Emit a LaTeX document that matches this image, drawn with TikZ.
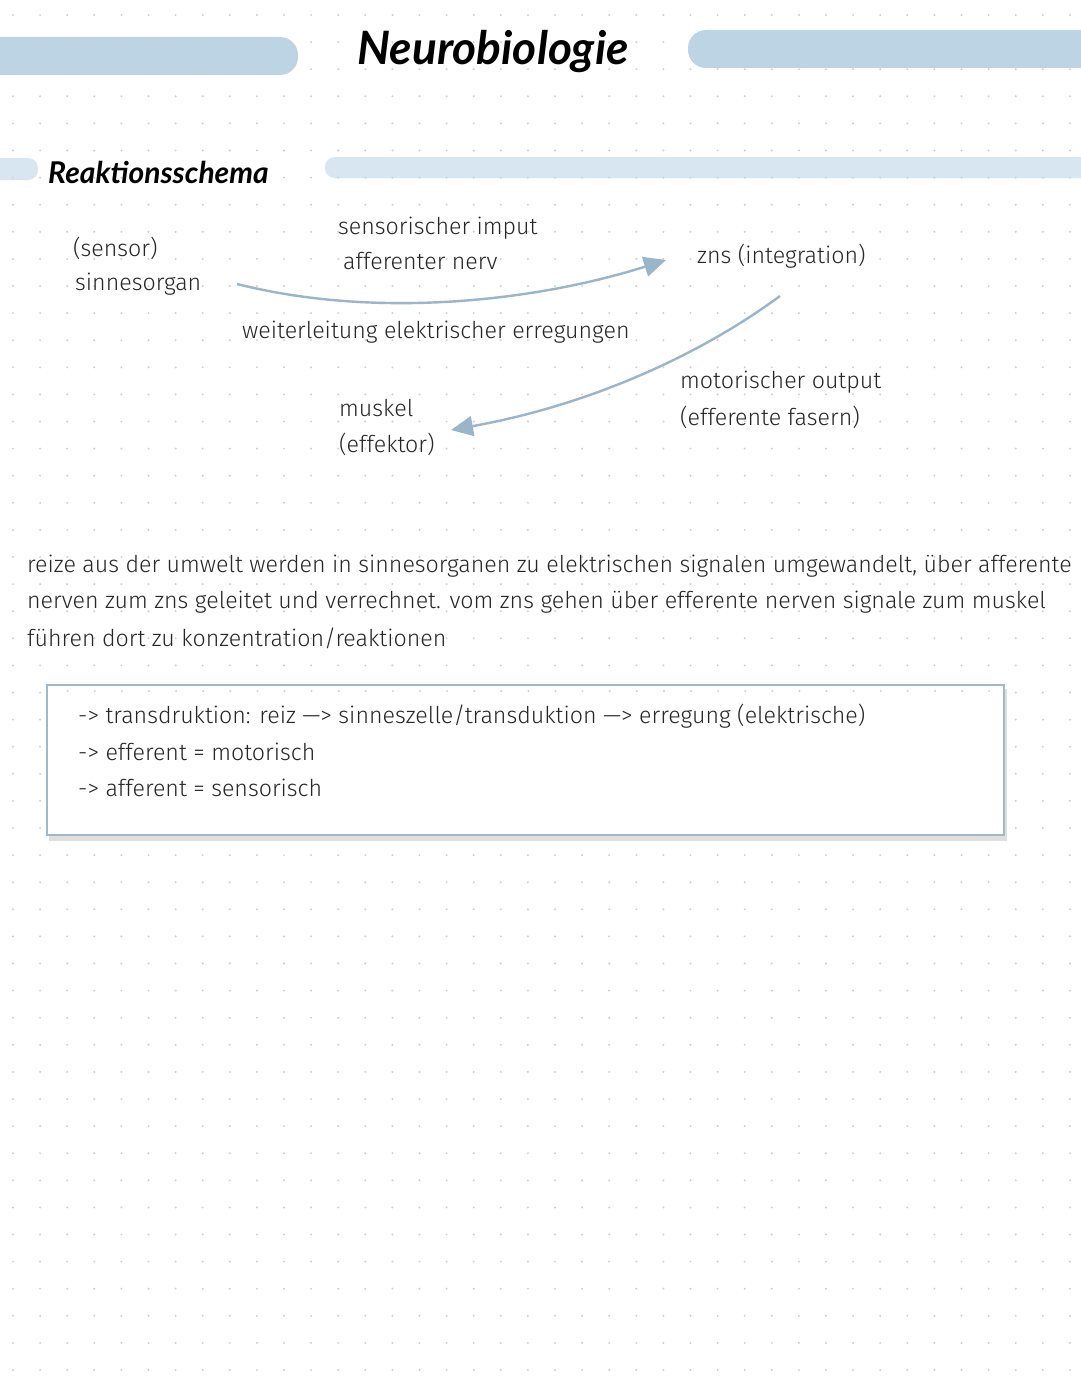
\documentclass[tikz,border=0pt]{standalone}
\usepackage{fontspec}
\setmainfont{Fira Sans Light}
\newfontfamily\titlefont{Lato}
\usetikzlibrary{arrows.meta}
\definecolor{barblue}{HTML}{BDD4E4}
\definecolor{barlight}{HTML}{D7E6F0}
\definecolor{arrowblue}{HTML}{9AB5CA}
\definecolor{boxline}{HTML}{A3B7CA}
\definecolor{dotgray}{HTML}{CFCFCF}
\definecolor{ink}{HTML}{262626}
\tikzset{
  hand/.style={anchor=west,inner sep=0pt,text=ink,font=\fontsize{23.2}{27}\selectfont},
  flow/.style={line width=2.4pt,arrowblue,-{Triangle[length=22pt,width=20pt]}},
}
\begin{document}
\begin{tikzpicture}[x=1pt,y=-1pt]
  \useasboundingbox (0,0) rectangle (1080,1394);
  \fill[white] (0,0) rectangle (1080,1394);
  % balken
  \fill[barblue,rounded corners=18pt] (-30,37) rectangle (298,75);
  \fill[barblue,rounded corners=18pt] (688,30) rectangle (1110,68);
  \fill[barlight,rounded corners=10pt] (-20,158) rectangle (38,180);
  \fill[barlight,rounded corners=10pt] (325,157) rectangle (1110,178);
  % punktraster
  \foreach \i in {0,...,39}
    \foreach \j in {0,...,51}
      \fill[dotgray] (13+27.1*\i,15+27.1*\j) circle (1.1);
  % titel
  \node[inner sep=0pt,text=black,font=\titlefont\fontsize{46}{50}\selectfont\bfseries\itshape] (titel) at (493,52) {Neurobiologie};
  \node[anchor=west,inner sep=0pt,text=black,font=\titlefont\fontsize{30}{34}\selectfont\bfseries\itshape] (schema) at (48,172) {Reaktionsschema};
  % schema
  \node[hand] (sensor) at (73,248) {(sensor)};
  \node[hand] (sinn) at (75,284) {sinnesorgan};
  \node[hand] (input) at (338,228) {sensorischer imput};
  \node[hand] (nerv) at (343,261) {afferenter nerv};
  \node[hand] (zns) at (697,256) {zns (integration)};
  \node[hand] (weiter) at (242,332) {weiterleitung elektrischer erregungen};
  \node[hand] (output) at (680,382) {motorischer output};
  \node[hand] (fasern) at (680,417) {(efferente fasern)};
  \node[hand] (muskel) at (339,408) {muskel};
  \node[hand] (effektor) at (339,444) {(effektor)};
  \coordinate (a1) at (237,284);
  \coordinate (a2) at (666,260);
  \coordinate (b1) at (780,296);
  \coordinate (b2) at (451,430);
  \draw[flow] (a1) .. controls (380,320) and (540,300) .. (a2);
  \draw[flow] (b1) .. controls (700,355) and (590,405) .. (b2);
  % text
  \node[hand] (z1) at (27,566) {reize aus der umwelt werden in sinnesorganen zu elektrischen signalen umgewandelt, über afferente};
  \node[hand] (z2) at (27,602) {nerven zum zns geleitet und verrechnet. vom zns gehen über efferente nerven signale zum muskel};
  \node[hand] (z3) at (27,638) {führen dort zu konzentration/reaktionen};
  % kasten
  \fill[gray!25] (49,689) rectangle (1007,841);
  \filldraw[fill=white,draw=boxline,line width=2pt] (47,685) rectangle (1004,835);
  \foreach \k in {0,...,34}
    \fill[dotgray] (67.7+27.1*\k,691) circle (1.1);
  \node[hand] (t1) at (78,716) {-> transdruktion: reiz —> sinneszelle/transduktion —> erregung (elektrische)};
  \node[hand] (t2) at (78,752) {-> efferent = motorisch};
  \node[hand] (t3) at (78,788) {-> afferent = sensorisch};
\end{tikzpicture}
\end{document}
